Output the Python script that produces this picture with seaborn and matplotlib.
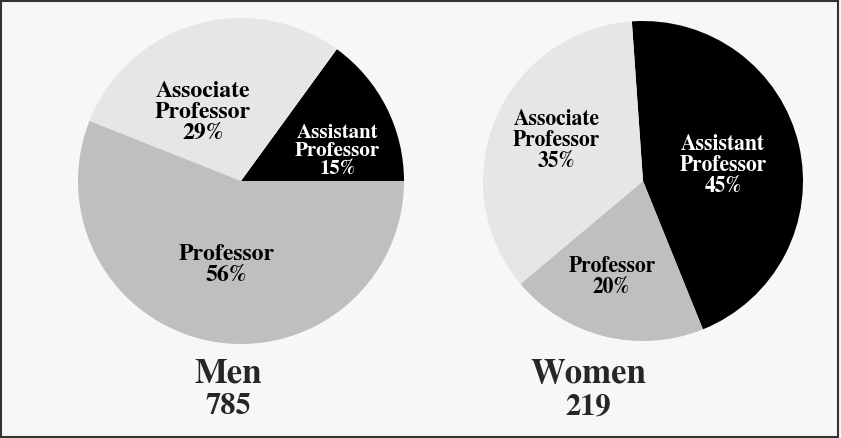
import numpy as np
import matplotlib
matplotlib.use("Agg")
import matplotlib.pyplot as plt
import seaborn as sns
from matplotlib.patches import Rectangle

sns.set_style("white")
# Times-like serif; STIX ships with matplotlib
plt.rcParams['font.family'] = ['STIXGeneral', 'DejaVu Serif']
plt.rcParams['font.weight'] = 'bold'

# Data
ranks = ['Assistant\nProfessor', 'Associate\nProfessor', 'Professor']
men_pct = [15, 29, 56]
women_pct = [45, 35, 20]
men_total = 785
women_total = 219

colors = {'Assistant\nProfessor': '#000000',
          'Associate\nProfessor': '#e6e6e6',
          'Professor': '#bfbfbf'}
txt_colors = {'Assistant\nProfessor': 'white',
              'Associate\nProfessor': 'black',
              'Professor': 'black'}

W, H = 841, 438
fig = plt.figure(figsize=(W / 100, H / 100), dpi=100)
fig.patch.set_facecolor('#f7f7f7')


def pie_axes(cx, cy, r):
    return fig.add_axes([(cx - r) / W, (H - cy - r) / H, 2 * r / W, 2 * r / H])


# Men: counterclockwise from 3 o'clock
ax1 = pie_axes(241, 181, 163)
order_m = ['Assistant\nProfessor', 'Associate\nProfessor', 'Professor']
vals_m = [men_pct[ranks.index(k)] for k in order_m]
w1, _ = ax1.pie(vals_m, colors=[colors[k] for k in order_m], startangle=0,
                counterclock=True, wedgeprops=dict(linewidth=0))
# label placement: (radius fraction, angle shift from wedge middle, fontsize)
lab_m = {'Assistant\nProfessor': (0.62, -10, 15),
         'Associate\nProfessor': (0.48, 13, 17),
         'Professor': (0.52, 1, 17)}

# Women: clockwise from just past 12 o'clock
ax2 = pie_axes(643, 181, 160)
order_w = ['Assistant\nProfessor', 'Professor', 'Associate\nProfessor']
vals_w = [women_pct[ranks.index(k)] for k in order_w]
w2, _ = ax2.pie(vals_w, colors=[colors[k] for k in order_w], startangle=94,
                counterclock=False, wedgeprops=dict(linewidth=0))
lab_w = {'Assistant\nProfessor': (0.51, -2, 15.5),
         'Associate\nProfessor': (0.595, -2, 15.5),
         'Professor': (0.63, -4, 15.5)}

for ax, wedges, order, vals, labs in [(ax1, w1, order_m, vals_m, lab_m),
                                      (ax2, w2, order_w, vals_w, lab_w)]:
    for wdg, k, v in zip(wedges, order, vals):
        r, dth, fs = labs[k]
        th = np.deg2rad((wdg.theta1 + wdg.theta2) / 2 + dth)
        ax.text(r * np.cos(th), r * np.sin(th), f"{k}\n{v}%", ha='center',
                va='center', fontsize=fs, fontweight='bold',
                color=txt_colors[k], linespacing=1.0)
    ax.set_xlim(-1, 1)
    ax.set_ylim(-1, 1)
    ax.set_aspect('equal')
    ax.axis('off')

# group titles
for x, name, n in [(228, 'Men', men_total), (588, 'Women', women_total)]:
    fig.text(x / W, 1 - 374 / H, name, ha='center', va='center',
             fontsize=25, fontweight='bold')
    fig.text(x / W, 1 - 407 / H, str(n), ha='center', va='center',
             fontsize=22, fontweight='bold')

# frame
fig.patches.append(Rectangle((0.001, 0.003), 0.996, 0.994,
                             transform=fig.transFigure, fill=False,
                             edgecolor='#333333', linewidth=1.5))

plt.savefig('out.png', dpi=100, facecolor=fig.get_facecolor())
plt.close()
